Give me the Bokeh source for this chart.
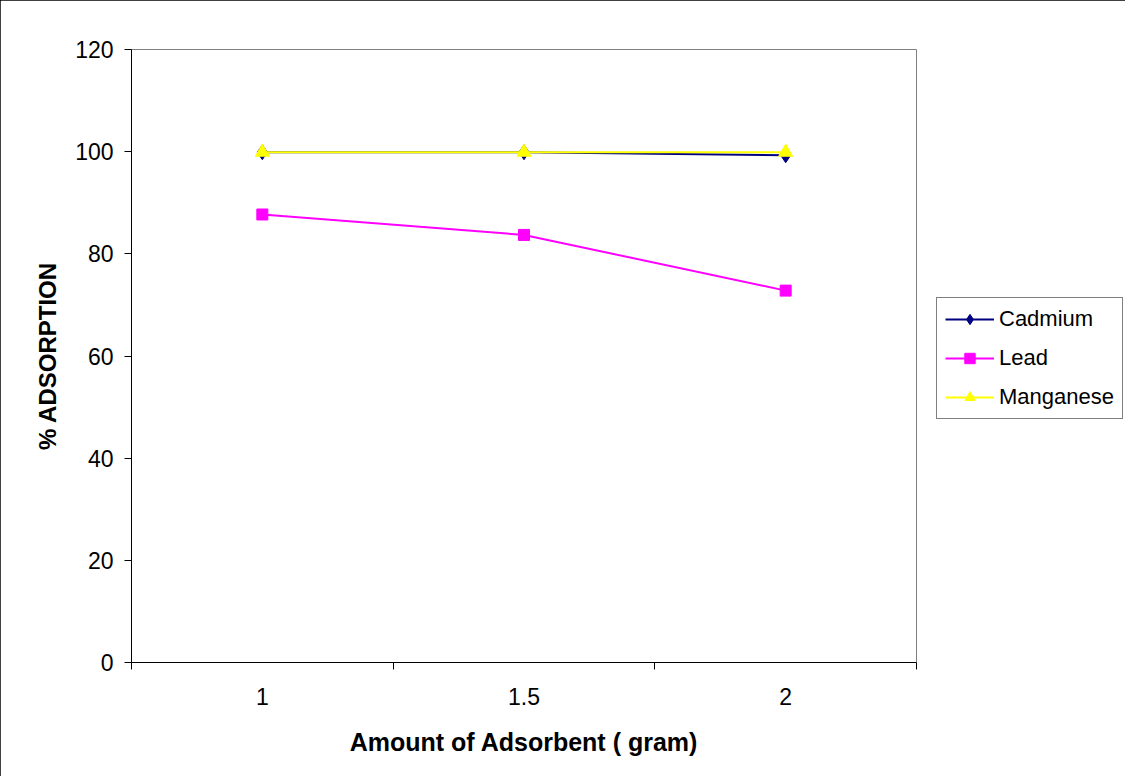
from bokeh.plotting import figure
from bokeh.models import Range1d, FixedTicker, Legend, LegendItem
from bokeh.embed import file_html
from bokeh.resources import INLINE

categories = ["1", "1.5", "2"]
cadmium = [99.9, 99.9, 99.3]
lead = [87.7, 83.7, 72.8]
manganese = [99.9, 99.9, 99.9]
y_ticks = [0, 20, 40, 60, 80, 100, 120]

xs = list(range(1, len(categories) + 1))
bounds = [i - 0.5 for i in xs] + [xs[-1] + 0.5]

FONT = "Liberation Sans"

p = figure(frame_width=785, frame_height=613, output_backend="svg", toolbar_location=None,
           x_range=Range1d(0.5, len(categories) + 0.5), y_range=Range1d(0, 120),
           min_border_left=131, min_border_right=209, min_border_top=49, min_border_bottom=114)
p.styles = {"outline": "1px solid black", "outline-offset": "-1px"}
p.background_fill_color = "white"
p.border_fill_color = "white"
p.outline_line_color = "#808080"
p.outline_line_width = 1
p.xgrid.visible = False
p.ygrid.visible = False

# x axis
p.xaxis.ticker = FixedTicker(ticks=xs, minor_ticks=bounds)
p.xaxis.major_label_overrides = {x: c for x, c in zip(xs, categories)}
p.xaxis.major_tick_line_color = None
p.xaxis.minor_tick_line_color = "black"
p.xaxis.minor_tick_in = 0
p.xaxis.minor_tick_out = 7
p.xaxis.major_tick_out = 7
p.xaxis.major_tick_in = 0
p.xaxis.major_label_standoff = 18
p.xaxis.axis_label = "Amount of Adsorbent ( gram)"
p.xaxis.axis_label_standoff = 20
p.xaxis.axis_label_text_font_size = "25px"

# y axis
p.yaxis.ticker = FixedTicker(ticks=y_ticks, minor_ticks=[])
p.yaxis.major_tick_in = 0
p.yaxis.major_tick_out = 7
p.yaxis.major_tick_line_color = "black"
p.yaxis.major_label_standoff = 11
p.yaxis.axis_label = "% ADSORPTION"
p.yaxis.axis_label_standoff = 11
p.yaxis.axis_label_text_font_size = "24px"

for ax in (p.xaxis, p.yaxis):
    ax.axis_line_color = "black"
    ax.major_label_text_font = FONT
    ax.major_label_text_font_size = "23px"
    ax.major_label_text_color = "black"
    ax.axis_label_text_font = FONT
    ax.axis_label_text_font_style = "bold"
    ax.axis_label_text_color = "black"

series = [
    ("Cadmium", cadmium, "#000080", "diamond", 15),
    ("Lead", lead, "#FF00FF", "square", 11),
    ("Manganese", manganese, "#FFFF00", "triangle", 14),
]
items = []
for name, vals, color, marker, size in series:
    lr = p.line(xs, vals, line_color=color, line_width=2)
    sr = p.scatter(xs, vals, marker=marker, size=size, fill_color=color, line_color=color)
    items.append(LegendItem(label=name, renderers=[lr, sr]))

legend = Legend(items=items, location=(20, 243), orientation="vertical",
                label_text_font=FONT, label_text_font_size="22px", label_text_color="black",
                glyph_width=49, glyph_height=26, spacing=13, padding=8, margin=0,
                label_standoff=5, border_line_color="black", border_line_width=1,
                background_fill_color="white", background_fill_alpha=1.0)
p.add_layout(legend, "right")

open("out.html", "w").write(file_html(p, INLINE))
